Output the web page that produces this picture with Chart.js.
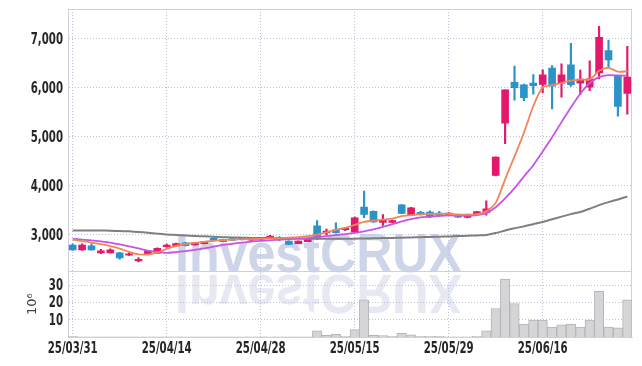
<!DOCTYPE html>
<html>
<head>
<meta charset="utf-8">
<script src="https://cdn.jsdelivr.net/npm/chart.js@4.4.1/dist/chart.umd.min.js"></script>
<style>
  html, body { margin: 0; padding: 0; background: #fff; }
  #wrap { width: 642px; height: 366px; }
</style>
</head>
<body>
<div id="wrap"><canvas id="chart" width="642" height="366"></canvas></div>
<script>
/* daily candles, 25/03/31 - 25/06/27 */
const dates = ['25/03/31','25/04/01','25/04/02','25/04/03','25/04/04','25/04/07','25/04/08','25/04/09','25/04/10','25/04/11',
  '25/04/14','25/04/15','25/04/16','25/04/17','25/04/18','25/04/21','25/04/22','25/04/23','25/04/24','25/04/25',
  '25/04/28','25/04/29','25/04/30','25/05/02','25/05/07','25/05/08','25/05/09','25/05/12','25/05/13','25/05/14',
  '25/05/15','25/05/16','25/05/19','25/05/20','25/05/21','25/05/22','25/05/23','25/05/26','25/05/27','25/05/28',
  '25/05/29','25/05/30','25/06/02','25/06/04','25/06/05','25/06/09','25/06/10','25/06/11','25/06/12','25/06/13',
  '25/06/16','25/06/17','25/06/18','25/06/19','25/06/20','25/06/23','25/06/24','25/06/25','25/06/26','25/06/27'];

const opens  = [2790,2690,2775,2630,2630,2630,2580,2465,2605,2625, 2755,2770,2835,2790,2815,2925,2900,2910,2925,2890,
  2905,2935,2925,2870,2815,2860,3180,3035,3100,3105, 3055,3565,3480,3250,3250,3610,3395,3455,3460,3440,
  3395,3415,3355,3415,3450,4210,5280,6115,6060,6100, 6070,6405,6095,6470,6095,6015,6305,6760,6260,5885];
const highs  = [2815,2815,2815,2700,2710,2640,2630,2530,2680,2730, 2810,2830,2845,2845,2865,2940,2905,2915,2930,2930,
  2935,2985,2960,2875,2875,2905,3290,3115,3240,3150, 3360,3890,3490,3410,3300,3615,3560,3480,3490,3480,
  3450,3420,3420,3480,3690,4590,5960,6445,6080,6270, 6370,6455,6490,6910,6365,6555,7260,6975,6260,6850];
const lows   = [2680,2680,2685,2610,2620,2500,2575,2445,2600,2620, 2740,2765,2770,2785,2810,2880,2850,2885,2895,2885,
  2900,2930,2880,2795,2810,2855,2900,2995,3030,3080, 3040,3350,3250,3190,3245,3430,3390,3400,3350,3380,
  3390,3355,3345,3410,3400,4200,4860,5750,5740,5870, 5900,5570,5810,6030,5865,5945,6185,6420,5420,5465];
const closes = [2690,2790,2690,2670,2690,2525,2600,2495,2665,2720, 2790,2820,2775,2835,2855,2885,2860,2890,2900,2925,
  2915,2970,2905,2800,2870,2900,2920,3075,3040,3130, 3345,3415,3260,3305,3290,3435,3550,3415,3365,3395,
  3440,3360,3415,3470,3530,4585,5960,6005,5800,6045, 6265,6035,6265,6065,6180,6185,7035,6570,5620,6220];

/* moving averages */
const maShort = [2900,2870,2840,2805,2765,2715,2650,2600,2595,2640, 2710,2770,2810,2835,2855,2875,2890,2900,2905,2910,
  2915,2920,2930,2940,2950,2970,3000,3050,3100,3140, 3200,3260,3290,3310,3330,3380,3400,3420,3425,3425,
  3425,3410,3410,3420,3480,3650,4130,4600,5080,5630, 6010,6055,6100,6150,6170,6175,6350,6410,6330,6340];
const maMid = [2915,2900,2885,2865,2840,2800,2760,2720,2675,2645, 2630,2645,2665,2688,2720,2755,2790,2815,2840,2860,
  2875,2885,2900,2910,2920,2930,2950,2970,2990,3010, 3035,3070,3110,3160,3215,3270,3320,3355,3370,3385,
  3395,3390,3390,3400,3440,3560,3740,3950,4190,4420, 4700,4990,5300,5600,5880,6100,6220,6260,6250,6250];
const maLong = [3088,3088,3087,3086,3083,3078,3068,3055,3040,3022, 3005,2995,2985,2975,2966,2958,2950,2944,2938,2935,
  2932,2930,2927,2924,2921,2918,2916,2915,2915,2916, 2918,2922,2926,2930,2935,2940,2945,2950,2955,2960,
  2965,2972,2978,2986,2995,3035,3085,3130,3170,3215, 3260,3315,3370,3420,3465,3530,3605,3665,3720,3780];

/* volume, millions of shares */
const volumes = [0.4,0.1,0.1,0.1,0.1,0.1,0.1,0.1,0.1,0.1, 0.1,0.1,0.1,0.1,0.1,0.1,0.1,0.1,0.1,0.1,
  0.1,0.1,0.1,0.1,0.1,0.1,3.6,0.9,1.5,0.4, 4.3,21.5,0.9,0.8,0.4,2.1,1.3,0.4,0.4,0.4,
  0.1,0.1,0.1,0.4,3.6,16.5,33.5,19.4,7.5,9.8, 9.8,5.8,7.0,7.5,5.8,9.8,26.5,5.8,5.3,21.5];

const priceTicks = [3000, 4000, 5000, 6000, 7000];
const volumeTicks = [10, 20, 30];

const UP = '#e2196d', DOWN = '#2b93c8';
const candleColors = opens.map((o, i) => closes[i] >= o ? UP : DOWN);
const gridColor = '#bcc1d8';
const gridDash = [1, 2];
const LABEL_FONT = 'bold 15px "DejaVu Sans", sans-serif';
const SQUEEZE = 0.68;

// narrow labels: the reference uses a condensed face we do not have
function squeezed(ctx, text, x, y, align) {
  ctx.save();
  ctx.translate(x, y);
  ctx.scale(SQUEEZE, 1);
  ctx.textAlign = align;
  ctx.textBaseline = 'middle';
  ctx.fillText(text, 0, 0);
  ctx.restore();
}

const watermark = {
  id: 'watermark',
  beforeDraw(chart) {
    const ctx = chart.ctx;
    const x0 = 175, w = 287, base = 272;
    ctx.save();
    ctx.font = 'bold 56px "Liberation Sans", Arial, sans-serif';
    ctx.textBaseline = 'alphabetic';
    const tw = ctx.measureText('InvestCRUX').width;
    ctx.save();
    ctx.translate(x0, base + 3);
    ctx.scale(w / tw, -1);
    ctx.fillStyle = '#e7e9f2';
    ctx.fillText('InvestCRUX', 0, 0);
    ctx.restore();
    ctx.translate(x0, base);
    ctx.scale(w / tw, 1);
    ctx.fillStyle = '#cfd5e8';
    ctx.fillText('InvestCRUX', 0, 0);
    ctx.restore();
  }
};

const frame = {
  id: 'frame',
  beforeDatasetsDraw(chart) {
    const { ctx, chartArea: a } = chart;
    const sep = chart.scales.y.bottom;
    ctx.save();
    ctx.strokeStyle = '#cfd0da';
    ctx.lineWidth = 1;
    ctx.strokeRect(a.left + 0.5, a.top + 0.5, a.right - a.left - 1, a.bottom - a.top);
    ctx.beginPath();
    ctx.moveTo(a.left, Math.round(sep) + 0.5);
    ctx.lineTo(a.right, Math.round(sep) + 0.5);
    ctx.stroke();
    ctx.restore();
  },
  afterDraw(chart) {
    const ctx = chart.ctx;
    const { x, y, yv } = chart.scales;
    ctx.save();
    ctx.font = LABEL_FONT;
    ctx.fillStyle = '#262626';
    priceTicks.forEach(v => squeezed(ctx, v.toLocaleString('en-US'), 63, y.getPixelForValue(v) + 1, 'right'));
    volumeTicks.forEach(v => squeezed(ctx, String(v), 63, yv.getPixelForValue(v) + 1, 'right'));
    x.ticks.forEach(t => squeezed(ctx, dates[t.value], x.getPixelForValue(t.value), 349, 'center'));

    ctx.translate(33, (yv.top + yv.bottom) / 2);
    ctx.rotate(-Math.PI / 2);
    ctx.font = '13px "DejaVu Sans", sans-serif';
    ctx.fillStyle = '#444';
    ctx.textAlign = 'center';
    ctx.textBaseline = 'middle';
    ctx.fillText('10⁶', 0, 0);
    ctx.restore();
  }
};

new Chart(document.getElementById('chart'), {
  type: 'bar',
  data: {
    labels: dates,
    datasets: [
      { type: 'line', label: 'MA short', data: maShort, borderColor: '#f0875a', borderWidth: 1.8,
        pointRadius: 0, tension: 0.25, yAxisID: 'y', order: 0 },
      { type: 'line', label: 'MA mid', data: maMid, borderColor: '#c853e6', borderWidth: 1.8,
        pointRadius: 0, tension: 0.25, yAxisID: 'y', order: 0 },
      { type: 'line', label: 'MA long', data: maLong, borderColor: '#7f7f7f', borderWidth: 2,
        pointRadius: 0, tension: 0.25, yAxisID: 'y', order: 0 },
      { label: 'wick', data: lows.map((l, i) => [l, highs[i]]), backgroundColor: candleColors,
        barThickness: 1.5, grouped: false, yAxisID: 'y', order: 1 },
      { label: 'body', data: opens.map((o, i) => [o, closes[i]]), backgroundColor: candleColors,
        barThickness: 7, minBarLength: 1.5, grouped: false, yAxisID: 'y', order: 1 },
      { label: 'volume', data: volumes, backgroundColor: '#d5d5d7', borderColor: '#b4b4b8',
        borderWidth: { top: 1, left: 1, right: 1, bottom: 0 }, barPercentage: 1, categoryPercentage: 1,
        grouped: false, yAxisID: 'yv', order: 2 }
    ]
  },
  options: {
    responsive: false,
    animation: false,
    layout: { padding: { top: 9, right: 10, bottom: 0, left: 0 } },
    plugins: { legend: { display: false }, tooltip: { enabled: false } },
    scales: {
      x: {
        offset: true,
        grid: { offset: false, color: gridColor, drawTicks: false },
        border: { display: true, color: '#cfd0da', dash: gridDash },
        ticks: { display: false, autoSkip: false },
        afterBuildTicks: s => { s.ticks = s.ticks.filter(t => t.value % 10 === 0); },
        afterFit: s => { s.height = 29; }
      },
      yv: {
        position: 'left', stack: 'panes', stackWeight: 1,
        min: 0, max: 38,
        grid: { color: gridColor, drawTicks: false },
        border: { display: true, color: '#c8cbe0', dash: gridDash },
        ticks: { display: false },
        afterBuildTicks: s => { s.ticks = volumeTicks.map(v => ({ value: v })); },
        afterFit: s => { s.width = 68; }
      },
      y: {
        position: 'left', stack: 'panes', stackWeight: 4,
        min: 2250, max: 7612,
        grid: { color: gridColor, drawTicks: false },
        border: { display: true, color: '#c8cbe0', dash: gridDash },
        ticks: { display: false },
        afterBuildTicks: s => { s.ticks = priceTicks.map(v => ({ value: v })); },
        afterFit: s => { s.width = 68; }
      }
    }
  },
  plugins: [watermark, frame]
});
</script>
</body>
</html>
